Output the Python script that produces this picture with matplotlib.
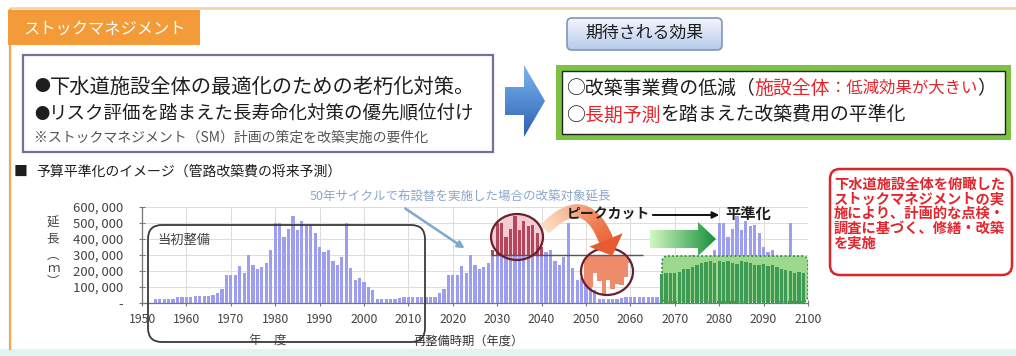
import numpy as np
import matplotlib
matplotlib.use("Agg")
import matplotlib.pyplot as plt
from matplotlib.patches import Rectangle, FancyBboxPatch, Ellipse, Polygon
from matplotlib.collections import PolyCollection
from matplotlib.colors import to_rgba

plt.rcParams["font.family"] = ["Noto Sans CJK JP", "DejaVu Sans"]

# ---------------------------------------------------------------- data
# 当初整備: 管路の布設延長 (m/年)
built_years = np.arange(1953, 2017)
built_m = [25000, 25000, 25000, 22000, 25000, 35000, 35000, 40000, 40000, 42000,
           45000, 45000, 45000, 50000, 65000, 85000, 175000, 175000, 175000, 230000,
           190000, 300000, 235000, 215000, 225000, 250000, 330000, 500000, 500000, 410000,
           465000, 545000, 455000, 515000, 480000, 490000, 440000, 350000, 320000, 330000,
           265000, 240000, 290000, 500000, 220000, 145000, 155000, 130000, 100000, 80000,
           25000, 25000, 25000, 25000, 25000, 30000, 35000, 35000, 40000, 40000,
           40000, 40000, 40000, 40000]

# 50年サイクルで布設替を実施した場合の改築対象延長 (m/年)
renew_years = np.arange(2017, 2100)
renew_m = [65000, 85000, 175000, 175000, 175000, 230000, 190000, 300000, 235000, 215000,
           225000, 250000, 330000, 500000, 500000, 410000, 465000, 545000, 455000, 515000,
           480000, 490000, 440000, 350000, 320000, 330000, 265000, 240000, 290000, 500000,
           220000, 145000, 155000, 130000, 100000, 80000, 25000, 25000, 25000, 25000,
           25000, 30000, 35000, 35000, 40000, 40000, 40000, 40000, 40000, 40000,
           65000, 85000, 175000, 175000, 175000, 230000, 190000, 300000, 235000, 215000,
           225000, 250000, 330000, 500000, 500000, 410000, 465000, 545000, 455000, 515000,
           480000, 490000, 440000, 350000, 320000, 330000, 265000, 240000, 290000, 500000,
           220000, 145000, 155000]

# 平準化後の改築延長 (m/年)
level_years = np.arange(2067, 2100)
leveled_m = [180000, 190000, 185000, 190000, 195000, 210000, 215000, 225000, 240000, 250000,
             255000, 265000, 250000, 260000, 255000, 265000, 250000, 245000, 260000, 255000,
             250000, 240000, 235000, 245000, 230000, 240000, 225000, 215000, 205000, 200000,
             190000, 195000, 185000]

peak_cap = 300000            # ピークカットの上限
peak_years = np.arange(2029, 2041)
fill_shift = 20              # カットした分を移す年数

x_ticks = list(range(1950, 2101, 10))
x_tick_labels = [str(v) for v in x_ticks]
y_ticks = [0, 100000, 200000, 300000, 400000, 500000, 600000]
y_tick_labels = ["-", "100, 000", "200, 000", "300, 000", "400, 000", "500, 000", "600, 000"]

# ---------------------------------------------------------------- figure
W, H = 1016, 356
fig = plt.figure(figsize=(W / 100, H / 100), dpi=100)
fig.patch.set_facecolor("white")

# chart axes (pixel box: x 142..808, y 207..303)
ax = fig.add_axes([142 / W, (H - 303) / H, 666 / W, 96 / H], zorder=2)
ax.patch.set_alpha(0)

# overlay in pixel coordinates for boxes, arrows and texts
ov = fig.add_axes([0, 0, 1, 1], zorder=5)
ov.set_xlim(0, W)
ov.set_ylim(H, 0)
ov.axis("off")
ov.set_autoscale_on(False)

PX = ov.transData
BAR = "#9E9EF0"
RED = "#E3262D"

# ---- bars
ax.grid(True, color="#DCDCDC", lw=0.7)
ax.set_axisbelow(True)
ax.add_patch(Ellipse((517, 237), 52, 46, transform=PX, fc="#F4CCD5", ec="none", zorder=1.5))
ax.bar(built_years, built_m, width=0.72, color=BAR, zorder=2)
ax.bar(renew_years, renew_m, width=0.72, color=BAR, zorder=2)

renew_lookup = dict(zip(renew_years, renew_m))
excess = np.array([max(renew_lookup[y] - peak_cap, 0) for y in peak_years])
ax.bar(peak_years, excess, bottom=peak_cap, width=0.72, color="#B4475C", zorder=2.5)

clip2 = Ellipse((607, 271.5), 52, 47, transform=PX)
hang = ax.bar(peak_years + fill_shift, excess, bottom=peak_cap - excess, width=1.0,
              color="#EE8B6B", zorder=2.6)
for r in hang:
    r.set_clip_path(clip2)

ax.hlines(peak_cap, 2028.6, 2062.8, colors="#555555", lw=1.0, zorder=3)

ax.add_patch(FancyBboxPatch((662, 256), 146, 46, boxstyle="round,pad=0,rounding_size=6",
                            transform=PX, fc="#9CD98F", ec="#2F7D3A", lw=1.2,
                            ls=(0, (1, 1.5)), zorder=3))
ax.bar(level_years, leveled_m, width=0.75, color="#3E9A55", zorder=4)

ax.set_xlim(1950, 2100)
ax.set_ylim(0, 600000)
ax.set_xticks(x_ticks)
ax.set_xticklabels(x_tick_labels, fontsize=8.8, color="#444444")
ax.set_yticks(y_ticks)
ax.set_yticklabels(y_tick_labels, fontsize=9.5, color="#444444")
ax.tick_params(axis="x", direction="inout", length=4, pad=5, color="#777777")
ax.tick_params(axis="y", direction="inout", length=4, pad=11.5, color="#777777")
for s in ("top", "right"):
    ax.spines[s].set_visible(False)
for s in ("left", "bottom"):
    ax.spines[s].set_color("#777777")
    ax.spines[s].set_linewidth(0.9)

# ---------------------------------------------------------------- helpers
def gradient(patch, extent, c0, c1, horizontal=True, zorder=2):
    patch.set_facecolor("none")
    patch.set_zorder(zorder + 0.1)
    ov.add_patch(patch)
    n = 256
    a = np.array(to_rgba(c0))
    b = np.array(to_rgba(c1))
    t = np.linspace(0, 1, n)[:, None]
    cols = a * (1 - t) + b * t
    img = cols[None, :, :] if horizontal else cols[:, None, :]
    x0, x1, y0, y1 = extent
    im = ov.imshow(img, extent=(x0, x1, y1, y0), origin="upper", aspect="auto",
                   interpolation="bilinear", zorder=zorder)
    im.set_clip_path(patch)
    return im


renderer = fig.canvas.get_renderer()


def runs(x, y, parts, **kw):
    for s, color, size in parts:
        t = ov.text(x, y, s, color=color, fontsize=size, va="center", ha="left", **kw)
        x += t.get_window_extent(renderer=renderer).width
    return x


# ---------------------------------------------------------------- frame
ov.add_patch(Rectangle((0, 349), W, 7, fc="#E2F4F1", ec="none", zorder=0.5))
ov.plot([9, W], [7.5, 7.5], color="#F1D2A6", lw=1.8, solid_capstyle="butt", zorder=1)
ov.plot([9.5, 9.5], [10, 349], color="#F3A64A", lw=1.6, zorder=1)
ov.add_patch(Rectangle((8, 10), 192, 35, fc="#F39B38", ec="none", zorder=2))
ov.text(23, 29, "ストックマネジメント", color="white", fontsize=11.7, va="center",
        ha="left", zorder=3)

# ---- purple box
ov.add_patch(Rectangle((23, 55), 470, 97, fc="white", ec="#75709A", lw=1.6, zorder=2))
runs(34, 87, [("●", "#1E1E1E", 11.5), ("下水道施設全体の最適化のための老朽化対策。", "#1E1E1E", 14.6)],
     zorder=3)
runs(34, 114, [("●", "#1E1E1E", 11.0), ("リスク評価を踏まえた長寿命化対策の優先順位付け", "#1E1E1E", 13.3)],
     zorder=3)
ov.text(34, 137, "※ストックマネジメント（SM）計画の策定を改築実施の要件化", fontsize=10.0,
        color="#555555", va="center", ha="left", zorder=3)

# ---- blue arrow
gradient(Polygon([(505, 87), (524, 87), (524, 65), (545, 101), (524, 137), (524, 115),
                  (505, 115)], closed=True, ec="none"),
         (505, 545, 65, 137), "#7DB6F2", "#2A60B2", horizontal=False)

# ---- expected effects
gradient(FancyBboxPatch((567, 18), 155, 32, boxstyle="round,pad=0,rounding_size=5",
                        ec="#8096BD", lw=1.2),
         (567, 722, 18, 50), "#F3F7FD", "#B6CBEA", horizontal=False)
ov.text(644.5, 33, "期待される効果", fontsize=12.2, color="#1E1E1E", va="center",
        ha="center", zorder=4)

ov.add_patch(Rectangle((556, 65), 455, 75, fc="#7DC243", ec="none", zorder=2))
ov.add_patch(Rectangle((562, 71), 443, 63, fc="white", ec="#222222", lw=1.0, zorder=2.2))
runs(566, 88, [("○改築事業費の低減（", "#1E1E1E", 13.6), ("施設全体", RED, 13.6),
               ("：低減効果が大きい", RED, 11.8), ("）", "#1E1E1E", 13.6)], zorder=3)
runs(566, 115, [("○", "#1E1E1E", 13.6), ("長期予測", RED, 13.6),
                ("を踏まえた改築費用の平準化", "#1E1E1E", 13.6)], zorder=3)

# ---- section title
ov.text(14, 172, "■", fontsize=10, color="#1E1E1E", va="center", ha="left")
ov.text(36, 172, "予算平準化のイメージ（管路改築費の将来予測）", fontsize=10,
        color="#1E1E1E", va="center", ha="left")

# ---- red note box
ov.add_patch(FancyBboxPatch((830, 169), 182, 106, boxstyle="round,pad=0,rounding_size=10",
                            fc="white", ec="#D9262B", lw=1.8, zorder=2))
note_lines = ["下水道施設全体を俯瞰した", "ストックマネジメントの実", "施により、計画的な点検・",
              "調査に基づく、修繕・改築", "を実施"]
for i, line in enumerate(note_lines):
    ov.text(834, 185 + i * 14.6, line, fontsize=10.3, color=RED, fontweight="bold",
            va="center", ha="left", zorder=3)

# ---- chart labels
for ch, yy in zip(["延", "長", "︵", "ｍ", "︶"], [223, 239, 255, 269, 282]):
    ov.text(53, yy, ch, fontsize=9, color="#444444", va="center", ha="center")
ov.text(268, 340, "年　度", fontsize=9, color="#444444", va="center", ha="center")
ov.text(414, 341, "再整備時期（年度）", fontsize=8.8, color="#333333", va="center", ha="left")

ov.add_patch(FancyBboxPatch((148, 225), 277, 117, boxstyle="round,pad=0,rounding_size=14",
                            fc="none", ec="#3A3A3A", lw=1.3, zorder=3))
ov.text(157, 240, "当初整備", fontsize=9.5, color="#444444", va="center", ha="left")

ov.text(310, 197, "50年サイクルで布設替を実施した場合の改築対象延長", fontsize=9,
        color="#8AA6CC", va="center", ha="left")
ov.annotate("", xy=(467, 250), xytext=(403, 207),
            arrowprops=dict(arrowstyle="-|>", color="#7FA8D0", lw=1.8, mutation_scale=10))

# ---- peak-cut circles
ov.add_patch(Ellipse((517, 237), 52, 46, fc="none", ec="#6A1F2E", lw=1.6, zorder=3))
ov.add_patch(Ellipse((607, 271.5), 52, 47, fc="none", ec="#6A1F2E", lw=1.6, zorder=3))

# curved orange arrow
P0, P1, P2 = np.array([545, 229.0]), np.array([585, 188.0]), np.array([606, 240.0])
ts = np.linspace(0, 1, 60)
pts = [(1 - t) ** 2 * P0 + 2 * (1 - t) * t * P1 + t ** 2 * P2 for t in ts]
tans = [2 * (1 - t) * (P1 - P0) + 2 * t * (P2 - P1) for t in ts]
c0, c1 = np.array(to_rgba("#FCDCC2")), np.array(to_rgba("#EC6638"))
quads, cols = [], []
for i in range(len(ts) - 1):
    seg = []
    for j in (i, i + 1):
        tv = tans[j] / np.linalg.norm(tans[j])
        nv = np.array([-tv[1], tv[0]])
        w = (11 + 3 * ts[j]) / 2
        seg.append((pts[j] + nv * w, pts[j] - nv * w))
    quads.append([seg[0][0], seg[1][0], seg[1][1], seg[0][1]])
    cols.append(c0 * (1 - ts[i]) + c1 * ts[i])
ov.add_collection(PolyCollection(quads, facecolors=cols, edgecolors=cols, lw=0.6, zorder=4))
tv = tans[-1] / np.linalg.norm(tans[-1])
nv = np.array([-tv[1], tv[0]])
ov.add_patch(Polygon([P2 + nv * 18, P2 - nv * 18, P2 + tv * 17], closed=True,
                     fc="#E85A30", ec="none", zorder=4))

ov.text(567, 215, "ピークカット", fontsize=10, fontweight="bold", color="#1E1E1E",
        va="center", ha="left", zorder=4)
ov.annotate("", xy=(722, 215), xytext=(650, 215),
            arrowprops=dict(arrowstyle="-|>", color="#111111", lw=1.4, mutation_scale=10))
ov.text(725, 214, "平準化", fontsize=11, fontweight="bold", color="#1E1E1E",
        va="center", ha="left", zorder=4)

# green arrow
gradient(Polygon([(650, 230), (698, 230), (698, 222), (716, 239), (698, 256), (698, 248),
                  (650, 248)], closed=True, ec="none"),
         (650, 716, 222, 256), "#D2F8C0", "#16903C", horizontal=True, zorder=4)

ov.set_xlim(0, W)
ov.set_ylim(H, 0)
fig.savefig("out.png", dpi=100, facecolor="white")
